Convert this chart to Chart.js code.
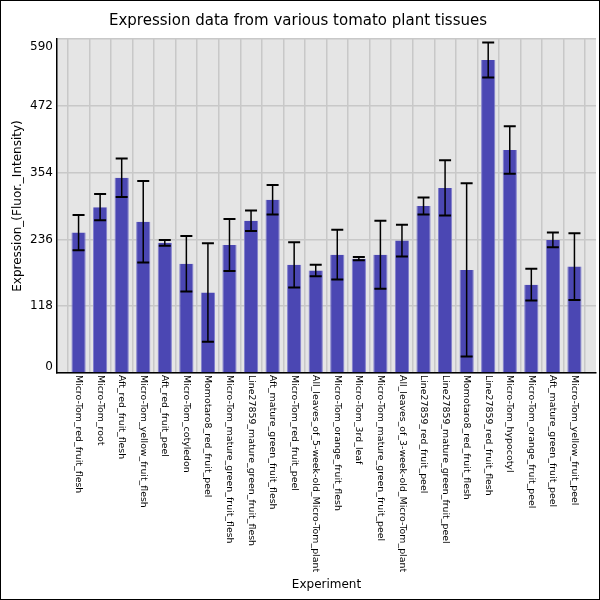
<!DOCTYPE html>
<html>
<head>
<meta charset="utf-8">
<script src="https://cdn.jsdelivr.net/npm/chart.js@4"></script>
<style>
  body { margin: 0; background: #fff; }
</style>
</head>
<body>
<canvas id="chart" width="600" height="600"></canvas>
<script>
var experiments = [
    "Micro-Tom_red_fruit_flesh", "Micro-Tom_root", "Aft_red_fruit_flesh", "Micro-Tom_yellow_fruit_flesh",
    "Aft_red_fruit_peel", "Micro-Tom_cotyledon", "Momotaro8_red_fruit_peel", "Micro-Tom_mature_green_fruit_flesh",
    "Line27859_mature_green_fruit_flesh", "Aft_mature_green_fruit_flesh", "Micro-Tom_red_fruit_peel",
    "All_leaves_of_5-week-old_Micro-Tom_plant", "Micro-Tom_orange_fruit_flesh", "Micro-Tom_3rd_leaf",
    "Micro-Tom_mature_green_fruit_peel", "All_leaves_of_3-week-old_Micro-Tom_plant", "Line27859_red_fruit_peel",
    "Line27859_mature_green_fruit_peel", "Momotaro8_red_fruit_flesh", "Line27859_red_fruit_flesh",
    "Micro-Tom_hypocotyl", "Micro-Tom_orange_fruit_peel", "Aft_mature_green_fruit_peel", "Micro-Tom_yellow_fruit_peel"
];
var expression = [248, 293, 345, 267, 230, 193, 142, 226, 269, 306, 191, 181, 209, 202, 209, 234, 295, 327, 182, 553, 394, 156, 235, 188];
var errors = [31, 23, 34, 72, 5, 49, 87, 46, 18, 26, 40, 10, 44, 3, 60, 28, 15, 49, 153, 31, 42, 28, 13, 59];
var yTicks = [0, 118, 236, 354, 472, 590];

var FONT = "'DejaVu Sans', sans-serif";

// bars sit on a numeric x axis so there is a full slot of margin on each side
var points = expression.map(function (v, i) { return { x: i, y: v }; });

// grey plot background + page border
var backdrop = {
    id: 'backdrop',
    beforeDraw: function (chart) {
        var c = chart.ctx, a = chart.chartArea;
        c.save();
        c.fillStyle = '#fff';
        c.fillRect(0, 0, chart.width, chart.height);
        c.fillStyle = '#e5e5e5';
        c.fillRect(a.left, a.top, a.right - a.left, a.bottom - a.top);
        c.restore();
    },
    afterDraw: function (chart) {
        var c = chart.ctx;
        c.save();
        c.strokeStyle = '#000';
        c.lineWidth = 2;
        c.strokeRect(0, 0, chart.width, chart.height);
        c.restore();
    }
};

// error bars and the tick labels
var extras = {
    id: 'extras',
    afterDatasetsDraw: function (chart) {
        var c = chart.ctx, x = chart.scales.x, y = chart.scales.y;
        c.save();
        c.strokeStyle = '#000';
        for (var i = 0; i < expression.length; i++) {
            var px = x.getPixelForValue(i);
            var top = y.getPixelForValue(expression[i] + errors[i]);
            var bot = y.getPixelForValue(expression[i] - errors[i]);
            c.lineWidth = 1.5;
            c.beginPath();
            c.moveTo(px, top);
            c.lineTo(px, bot);
            c.stroke();
            c.lineWidth = 2;
            c.beginPath();
            c.moveTo(px - 6, top); c.lineTo(px + 6, top);
            c.moveTo(px - 6, bot); c.lineTo(px + 6, bot);
            c.stroke();
        }
        c.restore();
    },
    afterDraw: function (chart) {
        var c = chart.ctx, x = chart.scales.x, y = chart.scales.y, a = chart.chartArea;
        c.save();
        c.fillStyle = '#000';
        c.font = '9.4px ' + FONT;
        c.textAlign = 'left';
        c.textBaseline = 'middle';
        for (var i = 0; i < experiments.length; i++) {
            c.save();
            c.translate(x.getPixelForValue(i), a.bottom + 2);
            c.rotate(Math.PI / 2);
            c.fillText(experiments[i], 0, 0);
            c.restore();
        }
        c.font = '12px ' + FONT;
        c.textAlign = 'right';
        for (var j = 0; j < yTicks.length; j++) {
            var py = y.getPixelForValue(yTicks[j]);
            if (py - 7 < a.top) py = a.top + 8;
            if (py + 7 > a.bottom) py = a.bottom - 6;
            c.fillText(String(yTicks[j]), a.left - 4, py);
        }
        c.restore();
    }
};

var ctx = document.getElementById('chart').getContext('2d');
var chart = new Chart(ctx, {
    type: 'bar',
    data: {
        datasets: [{
            data: points,
            backgroundColor: 'rgb(75,71,179)',
            borderColor: 'rgba(130,127,205,1)',
            borderWidth: { left: 1, right: 1, top: 0, bottom: 0 },
            barPercentage: 0.66,
            categoryPercentage: 1
        }]
    },
    options: {
        responsive: false,
        animation: false,
        layout: { padding: { left: 0, right: 4, top: 0, bottom: 0 } },
        plugins: {
            legend: { display: false },
            tooltip: { enabled: false },
            title: {
                display: true,
                text: 'Expression data from various tomato plant tissues',
                color: '#000',
                font: { family: FONT, size: 15, weight: 'normal' },
                padding: { top: 12, bottom: 9 }
            }
        },
        scales: {
            x: {
                type: 'linear',
                min: -1,
                max: experiments.length,
                offset: false,
                afterFit: function (scale) { scale.height = 227; },
                afterBuildTicks: function (scale) {
                    scale.ticks = experiments.map(function (e, i) { return { value: i }; });
                },
                ticks: { display: false },
                grid: { color: '#c8c8c8', lineWidth: 1.5, drawTicks: false },
                border: { display: true, color: '#000', width: 1.5 },
                title: {
                    display: true,
                    text: 'Experiment',
                    color: '#000',
                    font: { family: FONT, size: 12 },
                    padding: { top: 0, bottom: 8 }
                }
            },
            y: {
                min: 0,
                max: 590,
                afterFit: function (scale) { scale.width = 57; },
                afterBuildTicks: function (scale) {
                    scale.ticks = yTicks.map(function (v) { return { value: v }; });
                },
                ticks: { display: false },
                grid: { color: '#c8c8c8', lineWidth: 1.5, drawTicks: false },
                border: { display: true, color: '#000', width: 1.5 },
                title: {
                    display: true,
                    text: 'Expression_(Fluor._Intensity)',
                    color: '#000',
                    font: { family: FONT, size: 12 },
                    padding: { top: 11, bottom: 0 }
                }
            }
        }
    },
    plugins: [backdrop, extras]
});
</script>
</body>
</html>
